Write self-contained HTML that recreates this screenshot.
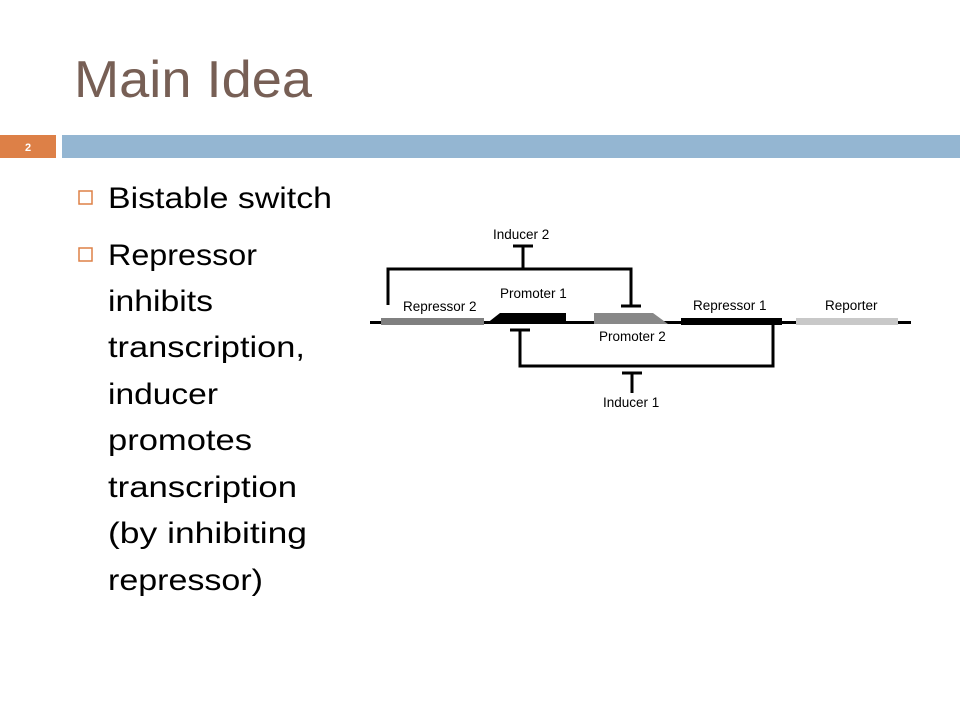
<!DOCTYPE html>
<html><head><meta charset="utf-8"><style>
html,body{margin:0;padding:0;background:#fff;}
svg{display:block;font-family:"Liberation Sans",sans-serif;}
</style></head><body>
<svg width="960" height="720" viewBox="0 0 960 720">
<text x="74" y="97" font-size="52" fill="#775f55" textLength="238" lengthAdjust="spacingAndGlyphs">Main Idea</text>
<rect x="0" y="135" width="56" height="23" fill="#dd8047"/>
<text x="28" y="151" font-size="11" font-weight="bold" fill="#fff" text-anchor="middle">2</text>
<rect x="62" y="135" width="898" height="23" fill="#94b6d2"/>
<g fill="#000" font-size="30">
<rect x="79" y="191" width="13" height="13" fill="none" stroke="#dd8047" stroke-width="1.5"/>
<text x="108" y="208" textLength="224" lengthAdjust="spacingAndGlyphs">Bistable switch</text>
<rect x="79" y="248" width="13" height="13" fill="none" stroke="#dd8047" stroke-width="1.5"/>
<g>
<text x="108" y="265" textLength="149" lengthAdjust="spacingAndGlyphs">Repressor</text>
<text x="108" y="311" textLength="105" lengthAdjust="spacingAndGlyphs">inhibits</text>
<text x="108" y="357" textLength="197" lengthAdjust="spacingAndGlyphs">transcription,</text>
<text x="108" y="404" textLength="110" lengthAdjust="spacingAndGlyphs">inducer</text>
<text x="108" y="450" textLength="144" lengthAdjust="spacingAndGlyphs">promotes</text>
<text x="108" y="497" textLength="189" lengthAdjust="spacingAndGlyphs">transcription</text>
<text x="108" y="543" textLength="199" lengthAdjust="spacingAndGlyphs">(by inhibiting</text>
<text x="108" y="590" textLength="155" lengthAdjust="spacingAndGlyphs">repressor)</text>
</g>
</g>
<g font-size="13.5" fill="#000">
<rect x="370" y="321" width="541" height="3" fill="#000"/>
<rect x="381" y="318" width="103" height="7" fill="#808080"/>
<polygon points="566,313 566,324 486,324 500,313" fill="#000"/>
<polygon points="594,313 653,313 668,324 594,324" fill="#888"/>
<rect x="681" y="318" width="101" height="7" fill="#000"/>
<rect x="796" y="318" width="102" height="7" fill="#c8c8c8"/>
<g stroke="#000" stroke-width="3" fill="none">
<polyline points="388,305 388,269 631,269 631,305"/>
<line x1="621" y1="306" x2="641" y2="306"/>
<line x1="523" y1="246" x2="523" y2="269"/>
<line x1="513" y1="246" x2="533" y2="246"/>
</g>
<g stroke="#000" stroke-width="3" fill="none">
<polyline points="520,330 520,366 773,366 773,325"/>
<line x1="510" y1="330" x2="530" y2="330"/>
<line x1="632" y1="373" x2="632" y2="393"/>
<line x1="622" y1="373" x2="642" y2="373"/>
</g>
<text x="493" y="239">Inducer 2</text>
<text x="403" y="311">Repressor 2</text>
<text x="500" y="298">Promoter 1</text>
<text x="599" y="341">Promoter 2</text>
<text x="693" y="310">Repressor 1</text>
<text x="825" y="310">Reporter</text>
<text x="603" y="407">Inducer 1</text>
</g>
</svg>
</body></html>
